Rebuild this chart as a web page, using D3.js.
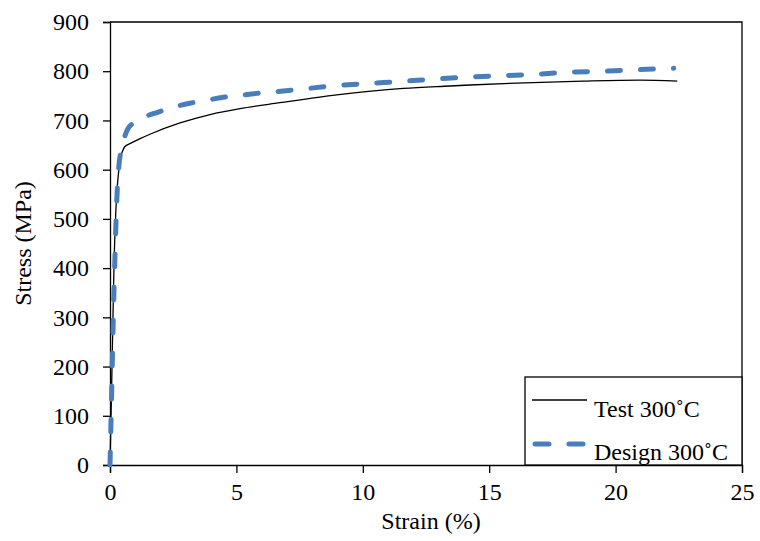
<!DOCTYPE html>
<html>
<head>
<meta charset="utf-8">
<script src="https://d3js.org/d3.v7.min.js"></script>
<style>
  body { margin: 0; background: #fff; }
  text { font-family: "Liberation Serif", "Times New Roman", serif; fill: #000; }
</style>
</head>
<body>
<div id="chart"></div>
<script>
// Test curve (strain %, stress MPa)
var testStrain = [0, 0.07, 0.16, 0.26, 0.33, 0.40, 0.5, 0.59, 0.79, 1.19, 1.58, 2.77, 3.96, 5.14, 6.72, 8.97, 11.6, 13.45, 14.24, 16.08, 18.7, 20.97, 22.44];
var testStress = [0, 173, 410, 545, 590, 620, 638, 647, 653, 663, 672, 695, 712, 724, 736, 752, 765, 770, 772, 776, 780, 782, 780];

// Design curve
var designStrain = [0, 0.07, 0.13, 0.2, 0.24, 0.3, 0.36, 0.42, 0.5, 0.6, 0.72, 0.9, 1.15, 1.5, 1.85, 2.44, 3.16, 3.82, 4.48, 5.14, 5.8, 6.46, 7.45, 8.8, 10.15, 11.45, 12.85, 14.1, 15.55, 16.88, 18.2, 19.5, 20.8, 22.3];
var designStress = [0, 156, 299, 431, 498, 573, 612, 634, 652, 670, 684, 694, 703, 710, 716, 726, 735, 741, 747, 751, 755, 758, 763, 770, 775, 779, 784, 788, 791, 794, 798, 800, 803, 806];

var xTicks = [0, 5, 10, 15, 20, 25];
var yTicks = [0, 100, 200, 300, 400, 500, 600, 700, 800, 900];
var seriesNames = ["Test 300˚C", "Design 300˚C"];

var width = 760, height = 541;
var margin = {top: 22, right: 18, bottom: 76, left: 110};
var w = width - margin.left - margin.right;
var h = height - margin.top - margin.bottom;

var svg = d3.select("#chart").append("svg")
    .attr("width", width)
    .attr("height", height);

var g = svg.append("g")
    .attr("transform", "translate(" + margin.left + "," + margin.top + ")");

var xScale = d3.scaleLinear().domain([0, 25]).range([0, w]);
var yScale = d3.scaleLinear().domain([0, 900]).range([h, 0]);

// frame (top and right)
g.append("path")
    .attr("d", "M0,0H" + w + "V" + h)
    .attr("fill", "none")
    .attr("stroke", "#000")
    .attr("stroke-width", 1.3);

// axes
var xAxis = g.append("g")
    .attr("transform", "translate(0," + h + ")")
    .call(d3.axisBottom(xScale).tickValues(xTicks).tickSize(8).tickPadding(10).tickFormat(d3.format("d")));
var yAxis = g.append("g")
    .call(d3.axisLeft(yScale).tickValues(yTicks).tickSize(7).tickPadding(14).tickFormat(d3.format("d")));

[xAxis, yAxis].forEach(function (a) {
  a.select(".domain").attr("stroke", "#000").attr("stroke-width", 1.3);
  a.selectAll(".tick line").attr("stroke", "#000").attr("stroke-width", 1.3);
  a.selectAll("text").attr("font-size", 24).attr("font-family", "Liberation Serif");
});

// lines
var testData = testStrain.map(function (s, i) { return [s, testStress[i]]; });
var designData = designStrain.map(function (s, i) { return [s, designStress[i]]; });

var line = d3.line()
    .x(function (d) { return xScale(d[0]); })
    .y(function (d) { return yScale(d[1]); })
    .curve(d3.curveMonotoneX);

g.append("path")
    .datum(testData)
    .attr("d", line)
    .attr("fill", "none")
    .attr("stroke", "#000")
    .attr("stroke-width", 1.3);

g.append("path")
    .datum(designData)
    .attr("d", line)
    .attr("fill", "none")
    .attr("stroke", "#4a7ebb")
    .attr("stroke-width", 5)
    .attr("stroke-linecap", "round")
    .attr("stroke-dasharray", "13,20");

// axis labels
g.append("text")
    .attr("x", w / 2 + 5)
    .attr("y", h + 64)
    .attr("text-anchor", "middle")
    .attr("font-size", 24)
    .text("Strain (%)");

g.append("text")
    .attr("transform", "translate(-79," + (h / 2) + ") rotate(-90)")
    .attr("text-anchor", "middle")
    .attr("font-size", 24)
    .text("Stress (MPa)");

// legend
var legend = g.append("g")
    .attr("transform", "translate(" + (w - 217) + "," + (h - 88) + ")");

legend.append("rect")
    .attr("width", 217)
    .attr("height", 88)
    .attr("fill", "#fff")
    .attr("stroke", "#000")
    .attr("stroke-width", 1.3);

legend.append("line")
    .attr("x1", 7).attr("x2", 62)
    .attr("y1", 23).attr("y2", 23)
    .attr("stroke", "#000").attr("stroke-width", 1.3);

legend.append("line")
    .attr("x1", 10).attr("x2", 60)
    .attr("y1", 67).attr("y2", 67)
    .attr("stroke", "#4a7ebb").attr("stroke-width", 5)
    .attr("stroke-linecap", "round")
    .attr("stroke-dasharray", "14,20");

legend.selectAll("text.leg")
    .data(seriesNames)
    .enter()
    .append("text")
    .attr("class", "leg")
    .attr("x", 69)
    .attr("y", function (d, i) { return 40 + i * 43; })
    .attr("font-size", 24)
    .text(function (d) { return d; });
</script>
</body>
</html>
